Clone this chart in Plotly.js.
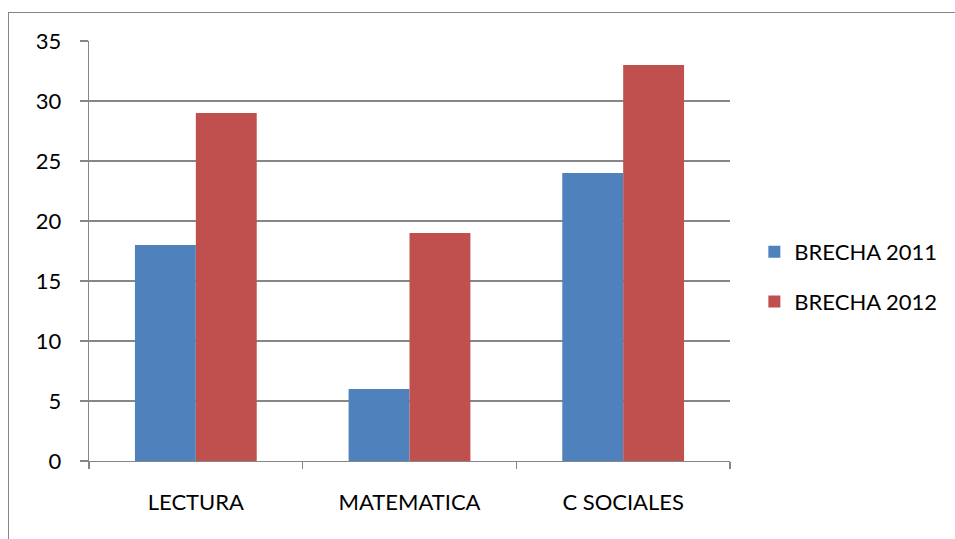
<!DOCTYPE html>
<html>
<head>
<meta charset="utf-8">
<script src="https://cdn.plot.ly/plotly-3.0.1.min.js"></script>
<style>
html,body{margin:0;padding:0;background:#fff;overflow:hidden;}
#wrap{position:relative;width:955px;height:539px;}
#frame{position:absolute;left:8px;top:12px;width:1000px;height:600px;border:1.3px solid #868686;box-sizing:border-box;pointer-events:none;}
#chart{position:absolute;left:0;top:0;width:955px;height:539px;}
</style>
</head>
<body>
<div id="wrap">
<div id="chart"></div>
<div id="frame"></div>
</div>
<script>
const categories = ["LECTURA", "MATEMATICA", "C SOCIALES"];
const brecha2011 = [18, 6, 24];
const brecha2012 = [29, 19, 33];
const seriesNames = ["BRECHA 2011", "BRECHA 2012"];
const yTicks = [0, 5, 10, 15, 20, 25, 30, 35];

const FONT = "Lato, 'Liberation Sans', Arial, sans-serif";
const GRID = "#868686";
const FS = 22;

const traces = [
  {type: "bar", name: seriesNames[0], x: categories, y: brecha2011,
   marker: {color: "#4F81BD"}, legendgroup: "a"},
  {type: "bar", name: seriesNames[1], x: categories, y: brecha2012,
   marker: {color: "#C0504D"}, legendgroup: "b"}
];

const layout = {
  width: 955, height: 539,
  margin: {l: 89, r: 225, t: 41, b: 78, pad: 0},
  paper_bgcolor: "#fff", plot_bgcolor: "#fff",
  font: {family: FONT, size: FS, color: "#000"},
  barmode: "group", bargap: 0.43, bargroupgap: 0,
  showlegend: true,
  legend: {x: 1.038, xanchor: "left", y: 0.438, yanchor: "middle",
           traceorder: "grouped", tracegroupgap: 18,
           font: {family: FONT, size: FS, color: "#000"},
           bgcolor: "rgba(0,0,0,0)"},
  xaxis: {
    type: "category", showgrid: false, showline: true, linecolor: GRID, linewidth: 1.3,
    ticks: "outside", ticklen: 7, tickcolor: GRID, tickwidth: 1.3,
    tickson: "boundaries", ticklabelstandoff: 21,
    tickfont: {family: FONT, size: FS, color: "#000"}, zeroline: false,
    fixedrange: true
  },
  yaxis: {
    range: [0, 35], tickvals: yTicks, ticktext: yTicks.map(String),
    showgrid: true, gridcolor: GRID, gridwidth: 1.3,
    showline: true, linecolor: GRID, linewidth: 1.3,
    ticks: "outside", ticklen: 8, tickcolor: GRID, tickwidth: 1.3,
    ticklabelstandoff: 14, zeroline: false,
    tickfont: {family: FONT, size: FS, color: "#000"},
    fixedrange: true
  }
};

Plotly.newPlot("chart", traces, layout, {displayModeBar: false, staticPlot: true});
</script>
</body>
</html>
